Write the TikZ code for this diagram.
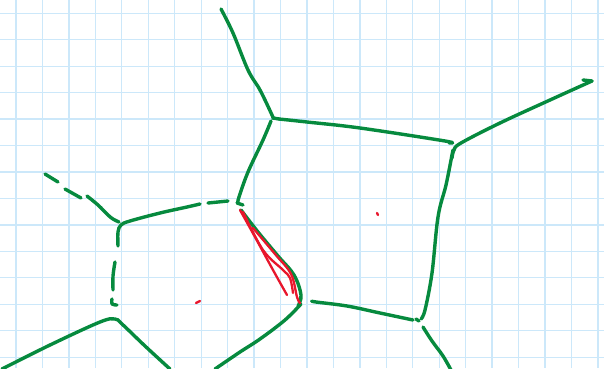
\documentclass[tikz,border=0pt]{standalone}
\definecolor{gridblue}{RGB}{204,232,250}
\definecolor{pen}{RGB}{6,138,62}
\definecolor{redpen}{RGB}{232,22,44}
\tikzset{
  gpen/.style={draw=pen, line width=3.4pt, line cap=round, line join=round},
  rpen/.style={draw=redpen, line width=2.3pt, line cap=round, line join=round},
}
\begin{document}
\begin{tikzpicture}[x=1pt,y=-1pt]
\fill[white] (0,0) rectangle (604,368);
\useasboundingbox (0,0) rectangle (604,368);
\begin{scope}
\clip (0,0) rectangle (604,368);
% grid
\foreach \k in {0,...,22} {\draw[gridblue, line width=1.3pt] ({16+26.45*\k},0) -- ({16+26.45*\k},368);}
\foreach \k in {0,...,13} {\draw[gridblue, line width=1.3pt] (0,{13.3+26.45*\k}) -- (604,{13.3+26.45*\k});}
% green strokes
\draw[gpen] plot[smooth, tension=0.6] coordinates {(221,9) (233,33) (248,70) (260,90) (272,115) (273,118)};
\draw[gpen] (273,118) -- (279,119);
\draw[gpen] plot[smooth, tension=0.6] coordinates {(271,121) (263,140) (248,172) (239,197) (238,202)};
\draw[gpen] (237,203) -- (243,205);
\draw[gpen] plot[smooth, tension=0.6] coordinates {(279,119) (307,122) (360,128) (445,141) (449,143)};
\draw[gpen] plot[smooth, tension=0.6] coordinates {(452,158) (454,150) (461,143) (500,123) (550,100) (592,81)};
\draw[gpen] (592,81) -- (583,80);
\draw[gpen] plot[smooth, tension=0.6] coordinates {(453,150) (452,155) (446,185) (438,217) (432,273) (425,310) (421,319)};
\draw[gpen] (416,319) -- (419,321);
\draw[gpen] plot[smooth, tension=0.6] coordinates {(423,327) (432,341) (443,356) (451,370)};
\draw[gpen] plot[smooth, tension=0.6] coordinates {(312,301) (316,302) (347,306) (380,313) (413,320)};
\draw[gpen] plot[smooth, tension=0.6] coordinates {(301,304) (285,320) (260,339) (240,352) (215,369)};
\draw[gpen] plot[smooth, tension=0.6] coordinates {(241,210) (258,232) (278,256) (294,275) (301,295) (298,306)};
% red strokes
\draw[rpen] plot[smooth, tension=0.6] coordinates {(240,210) (255,237) (273,270) (287,295)};
\draw[rpen] plot[smooth, tension=0.6] coordinates {(243,212) (263,250) (283,270) (290,278) (293,293)};
\draw[rpen] plot[smooth, tension=0.6] coordinates {(253,228) (275,254) (291,274) (297,297) (300,303)};
\draw[rpen] (377,213) -- (378,215);
\draw[rpen] (196,303) -- (200,301);
% left dashed stroke
\draw[gpen] (45,174) -- (58,182);
\draw[gpen] (65,189) -- (81,198);
\draw[gpen] plot[smooth, tension=0.6] coordinates {(87,196) (98,205) (108,215) (113,219) (119,222)};
\draw[gpen] plot[smooth, tension=0.6] coordinates {(118,246) (118,232) (121,225) (130,221) (160,213) (187,207) (200,204)};
\draw[gpen] (208,203) -- (228,201);
\draw[gpen] plot[smooth, tension=0.6] coordinates {(115,262) (113,276) (113,290)};
\draw[gpen] plot[smooth, tension=0.6] coordinates {(112,299) (112,304) (117,305)};
\draw[gpen] plot[smooth, tension=0.6] coordinates {(2,369) (50,345) (100,322) (115,319) (122,324) (145,346) (170,369)};
\end{scope}
\end{tikzpicture}
\end{document}
